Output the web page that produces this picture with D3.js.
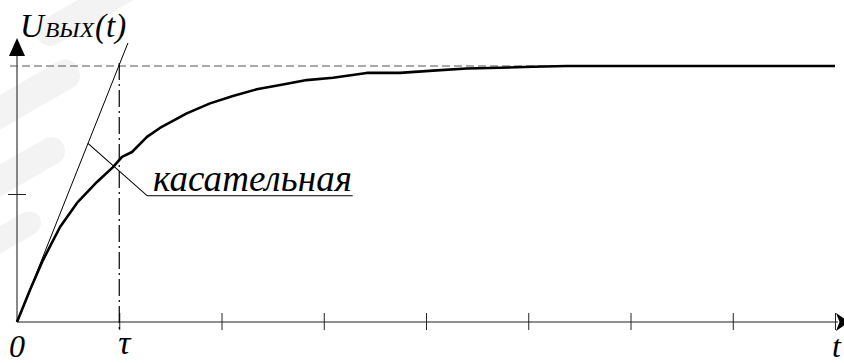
<!DOCTYPE html>
<html>
<head>
<meta charset="utf-8">
<script src="https://cdn.jsdelivr.net/npm/d3@7"></script>
<style>
  html, body { margin: 0; padding: 0; background: #fff; overflow: hidden; }
  svg { display: block; }
  svg text { font-family: "Liberation Serif", "Times New Roman", Tinos, "DejaVu Serif", serif; font-style: italic; }
</style>
</head>
<body>
<svg id="chart" width="844" height="363"></svg>
<script>
// ---- data ----
const tValues = [0, 0.127, 0.254, 0.421, 0.587, 0.782, 0.939, 1.027, 1.125, 1.271, 1.398, 1.66, 1.888, 2.112, 2.344, 2.601, 2.833, 3.09, 3.42, 3.746, 4.068, 4.398, 4.724, 5.046, 5.376, 5.70, 8.0];
const uValues = [0, 0.125, 0.242, 0.371, 0.465, 0.547, 0.605, 0.645, 0.664, 0.723, 0.758, 0.815, 0.854, 0.883, 0.909, 0.928, 0.945, 0.954, 0.973, 0.973, 0.982, 0.990, 0.993, 0.997, 1.0, 1.0, 1.0];
const tangentT = [0, 1.085];
const tangentU = [0, 1.09];
const xTicks = [1, 2, 3, 4, 5, 6, 7, 8];
const yTicks = [0.5, 1];
const steadyValue = 1;
const tau = 1;
const leaderT = [0.694, 1.274, 3.283];
const leaderU = [0.698, 0.493, 0.493];
const leaderLabel = "касательная";
const xLabels = ["0", "τ", "t"];
const yLabelMain = "U", yLabelSub = "ВЫХ", yLabelArg = "(t)";

// ---- scales ----
const svg = d3.select("#chart");
const x = d3.scaleLinear().domain([0, 8]).range([17, 835]);
const y = d3.scaleLinear().domain([0, 1]).range([322, 66]);

// ---- faint watermark bands ----
const wm = svg.append("g").attr("fill", "#f3f3f3");
[[30, -5, 120, 28], [-25, 80, 110, 30], [-30, 155, 100, 28], [-35, 225, 80, 24]].forEach(([bx, by, bw, bh]) => {
  wm.append("rect").attr("x", bx).attr("y", by).attr("width", bw).attr("height", bh)
    .attr("rx", 14).attr("transform", `rotate(-30 ${bx + bw / 2} ${by + bh / 2})`);
});

// ---- axes lines ----
svg.append("line").attr("x1", x(0)).attr("x2", 838).attr("y1", y(0)).attr("y2", y(0))
  .attr("stroke", "#6a6a6a").attr("stroke-width", 1.6);
svg.append("line").attr("x1", x(0)).attr("x2", x(0)).attr("y1", y(0)).attr("y2", 55)
  .attr("stroke", "#6a6a6a").attr("stroke-width", 1.6);

// ticks via d3 axes (crossing the axis line)
const xAxis = d3.axisBottom(x).tickValues(xTicks).tickSize(17).tickFormat("");
const gx = svg.append("g").attr("transform", `translate(0,${y(0) - 9})`).call(xAxis);
gx.select(".domain").remove();
gx.selectAll(".tick line").attr("stroke", "#222").attr("stroke-width", 1);

const yAxis = d3.axisLeft(y).tickValues(yTicks.slice(0, 1)).tickSize(18).tickFormat("");
const gy = svg.append("g").attr("transform", `translate(${x(0) + 9},0)`).call(yAxis);
gy.select(".domain").remove();
gy.selectAll(".tick line").attr("stroke", "#222").attr("stroke-width", 1);

// arrowheads
svg.append("path").attr("d", `M9,56 L25,56 L17,38 Z`).attr("fill", "#000");
svg.append("path").attr("d", `M836,313 L849,${y(0)} L836,331 L839.5,${y(0)} Z`).attr("fill", "#000");

// ---- steady-state dashed line ----
svg.append("line").attr("x1", 10).attr("x2", x(8)).attr("y1", y(steadyValue)).attr("y2", y(steadyValue))
  .attr("stroke", "#555").attr("stroke-width", 1.2).attr("stroke-dasharray", "8,4");

// ---- tau dash-dot line ----
svg.append("line").attr("x1", x(tau)).attr("x2", x(tau)).attr("y1", y(steadyValue) - 3).attr("y2", 330)
  .attr("stroke", "#000").attr("stroke-width", 1.2).attr("stroke-dasharray", "17,4,2,4");

// ---- tangent ----
svg.append("line").attr("x1", x(tangentT[0])).attr("y1", y(tangentU[0]))
  .attr("x2", x(tangentT[1])).attr("y2", y(tangentU[1]))
  .attr("stroke", "#000").attr("stroke-width", 1);

// ---- response curve ----
const line = d3.line().x((d, i) => x(tValues[i])).y((d, i) => y(uValues[i]));
svg.append("path").datum(uValues).attr("d", line)
  .attr("fill", "none").attr("stroke", "#000").attr("stroke-width", 2.6).attr("stroke-linejoin", "round");

// ---- leader + label ----
const leader = d3.line().x((d, i) => x(leaderT[i])).y((d, i) => y(leaderU[i]));
svg.append("path").datum(leaderT).attr("d", leader)
  .attr("fill", "none").attr("stroke", "#000").attr("stroke-width", 1.1);

svg.append("text").attr("x", x(1.33)).attr("y", 191).attr("font-size", 37)
  .attr("textLength", 199).attr("lengthAdjust", "spacing").text(leaderLabel);

// ---- axis labels ----
svg.append("text").attr("x", 17).attr("y", 357).attr("font-size", 32).attr("text-anchor", "middle").text(xLabels[0]);
svg.append("text").attr("x", x(tau) + 5).attr("y", 354).attr("font-size", 34).attr("text-anchor", "middle").text(xLabels[1]);
svg.append("text").attr("x", 832).attr("y", 357).attr("font-size", 32).text(xLabels[2]);

const yl = svg.append("text").attr("x", 20).attr("y", 37).attr("font-size", 33);
yl.append("tspan").text(yLabelMain);
yl.append("tspan").attr("font-size", 20).attr("x", 45).attr("textLength", 49).attr("lengthAdjust", "spacingAndGlyphs").text(yLabelSub);
yl.append("tspan").attr("x", 95).text(yLabelArg);
</script>
</body>
</html>
